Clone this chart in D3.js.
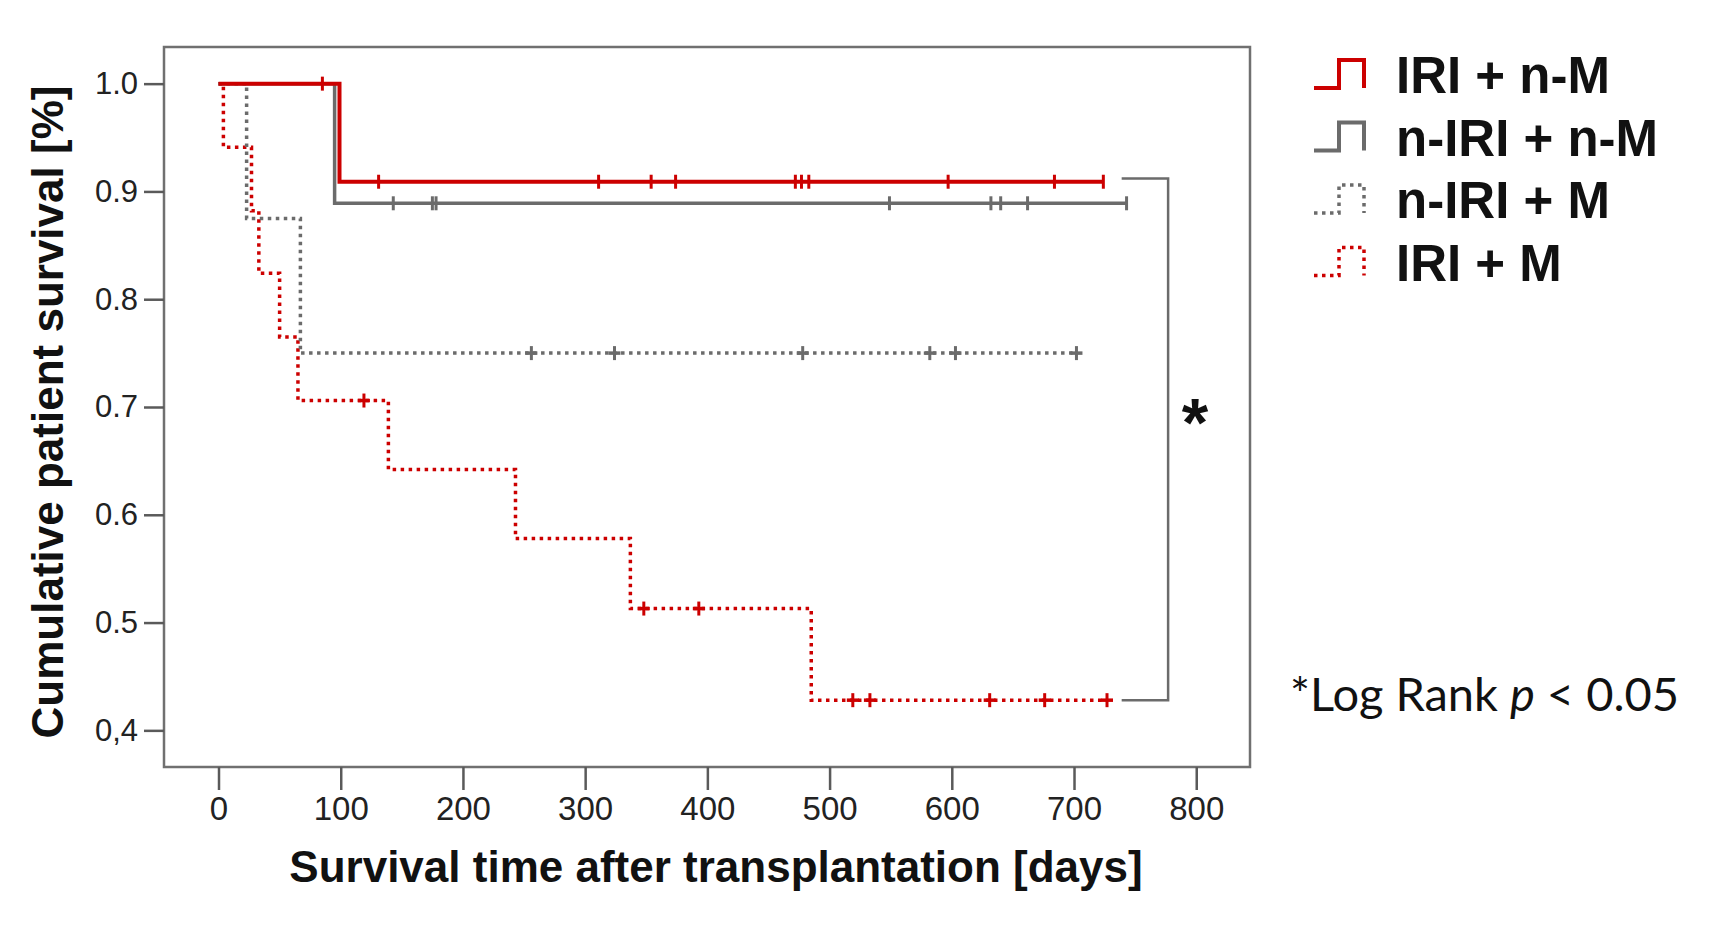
<!DOCTYPE html>
<html>
<head>
<meta charset="utf-8">
<script src="https://cdn.jsdelivr.net/npm/d3@7"></script>
<style>
  html, body { margin: 0; padding: 0; background: #ffffff; }
  svg { display: block; }
</style>
</head>
<body>
<svg id="chart" width="1712" height="932"></svg>
<script>
// ---------- data ----------
const seriesNames = ["IRI + n-M", "n-IRI + n-M", "n-IRI + M", "IRI + M"];

// Kaplan–Meier steps: [day, cumulative survival]
const stepsIRInM  = [[0, 1.0], [99, 0.909], [724, 0.909]];
const stepsNIRInM = [[0, 1.0], [95, 0.889], [743, 0.889]];
const stepsNIRIM  = [[0, 1.0], [23, 0.875], [67, 0.75], [702, 0.75]];
const stepsIRIM   = [[0, 1.0], [4, 0.941], [27, 0.882], [33, 0.824], [50, 0.765], [65, 0.706],
                     [139, 0.642], [243, 0.578], [337, 0.513], [485, 0.428], [727, 0.428]];

// censored observations (days)
const censorIRInM  = [85, 131, 311, 354, 374, 472, 477, 483, 597, 684, 724];
const censorNIRInM = [143, 175, 178, 549, 632, 640, 662, 743];
const censorNIRIM  = [256, 324, 478, 582, 603, 702];
const censorIRIM   = [119, 348, 393, 519, 533, 631, 676, 727];

const xTicks = [0, 100, 200, 300, 400, 500, 600, 700, 800];
const yTicks = [0.4, 0.5, 0.6, 0.7, 0.8, 0.9, 1.0];
const yTickLabels = ["0,4", "0.5", "0.6", "0.7", "0.8", "0.9", "1.0"];

const bracketDays = [739, 777];      // start / vertical of significance bracket
const bracketLevels = [0.912, 0.428];
const starDay = 799;
const starLevel = 0.692;

// ---------- layout ----------
const svg = d3.select("#chart");
const W = 1712, H = 932;
svg.append("rect").attr("width", W).attr("height", H).attr("fill", "#fff");

const plot = { left: 164, right: 1250, top: 47, bottom: 767 };
const x = d3.scaleLinear().domain([-44.6, 844]).range([plot.left, plot.right]);
const y = d3.scaleLinear().domain([0.366, 1.034]).range([plot.bottom, plot.top]);

const RED = "#cc0000";
const GRAY = "#6b6b6b";
const AXIS = "#5a5a5a";
const FONT = "'Liberation Sans', Arial, Helvetica, sans-serif";

const styles = [
  { steps: stepsIRInM,  censor: censorIRInM,  color: RED,  width: 4,   dash: null },
  { steps: stepsNIRInM, censor: censorNIRInM, color: GRAY, width: 3.5, dash: null },
  { steps: stepsNIRIM,  censor: censorNIRIM,  color: GRAY, width: 3.5, dash: "3.5 4.5" },
  { steps: stepsIRIM,   censor: censorIRIM,   color: RED,  width: 3.5, dash: "3.5 4.5" }
];

// ---------- frame ----------
svg.append("rect")
  .attr("x", plot.left).attr("y", plot.top)
  .attr("width", plot.right - plot.left).attr("height", plot.bottom - plot.top)
  .attr("fill", "none").attr("stroke", "#707070").attr("stroke-width", 2.5);

// ---------- axes ----------
const yAxis = svg.append("g")
  .attr("transform", `translate(${plot.left},0)`)
  .call(d3.axisLeft(y).tickValues(yTicks).tickFormat((d, i) => yTickLabels[i]).tickSize(20).tickPadding(6));
yAxis.select(".domain").remove();
yAxis.selectAll(".tick line").attr("stroke", AXIS).attr("stroke-width", 2.5);
yAxis.selectAll(".tick text").attr("font-family", FONT).attr("font-size", 31).attr("fill", "#222");

const xAxis = svg.append("g")
  .attr("transform", `translate(0,${plot.bottom})`)
  .call(d3.axisBottom(x).tickValues(xTicks).tickFormat(d3.format("d")).tickSize(23).tickPadding(7));
xAxis.select(".domain").remove();
xAxis.selectAll(".tick line").attr("stroke", AXIS).attr("stroke-width", 2.5);
xAxis.selectAll(".tick text").attr("font-family", FONT).attr("font-size", 33).attr("fill", "#222");

// ---------- titles ----------
svg.append("text")
  .attr("transform", `translate(63,412) rotate(-90)`)
  .attr("text-anchor", "middle")
  .attr("font-family", FONT).attr("font-weight", "bold").attr("font-size", 44).attr("fill", "#111")
  .text("Cumulative patient survival [%]");

svg.append("text")
  .attr("x", 716).attr("y", 882)
  .attr("text-anchor", "middle")
  .attr("font-family", FONT).attr("font-weight", "bold").attr("font-size", 44).attr("fill", "#111")
  .text("Survival time after transplantation  [days]");

// ---------- curves ----------
const line = d3.line().x(d => x(d[0])).y(d => y(d[1])).curve(d3.curveStepAfter);

function survAt(steps, day) {
  let v = steps[0][1];
  for (const s of steps) { if (s[0] <= day) v = s[1]; }
  return v;
}

const drawOrder = [3, 2, 1, 0];
drawOrder.forEach(i => {
  const s = styles[i];
  const g = svg.append("g");
  g.append("path")
    .attr("d", line(s.steps))
    .attr("fill", "none")
    .attr("stroke", s.color)
    .attr("stroke-width", s.width)
    .attr("stroke-dasharray", s.dash);
  const marks = g.selectAll("g.cm").data(s.censor).enter().append("g")
    .attr("transform", d => `translate(${x(d)},${y(survAt(s.steps, d))})`);
  marks.append("line").attr("x1", 0).attr("x2", 0).attr("y1", -7).attr("y2", 7)
    .attr("stroke", s.color).attr("stroke-width", 3);
  if (s.dash) {
    marks.append("line").attr("x1", -6).attr("x2", 6).attr("y1", 0).attr("y2", 0)
      .attr("stroke", s.color).attr("stroke-width", 3.5);
  }
});

// ---------- significance bracket ----------
svg.append("path")
  .attr("d", `M${x(bracketDays[0])},${y(bracketLevels[0])} H${x(bracketDays[1])} V${y(bracketLevels[1])} H${x(bracketDays[0])}`)
  .attr("fill", "none").attr("stroke", "#6b6b6b").attr("stroke-width", 2.5);

svg.append("text")
  .attr("x", x(starDay)).attr("y", y(starLevel) + 30)
  .attr("text-anchor", "middle")
  .attr("font-family", FONT).attr("font-weight", "bold").attr("font-size", 68).attr("fill", "#111")
  .text("*");

// ---------- legend ----------
const legendX = 1396, legendY0 = 93, legendDy = 62.5;
const legend = svg.append("g");
styles.forEach((s, i) => {
  const by = legendY0 + i * legendDy;
  legend.append("path")
    .attr("d", `M1314,${by - 5} H1339 V${by - 33} H1364 V${by - 5}`)
    .attr("fill", "none").attr("stroke", s.color)
    .attr("stroke-width", s.dash ? 3.5 : 4)
    .attr("stroke-dasharray", s.dash);
  legend.append("text")
    .attr("x", legendX).attr("y", by)
    .attr("font-family", FONT).attr("font-weight", "bold").attr("font-size", 51).attr("fill", "#111")
    .text(seriesNames[i]);
});

// ---------- log rank note ----------
const note = svg.append("text")
  .attr("x", 1290).attr("y", 711)
  .attr("font-family", "Lato, 'Open Sans', sans-serif").attr("font-size", 47).attr("fill", "#111");
note.append("tspan").text("*Log Rank ");
note.append("tspan").attr("font-style", "italic").text("p");
note.append("tspan").text(" < 0.05");
</script>
</body>
</html>
